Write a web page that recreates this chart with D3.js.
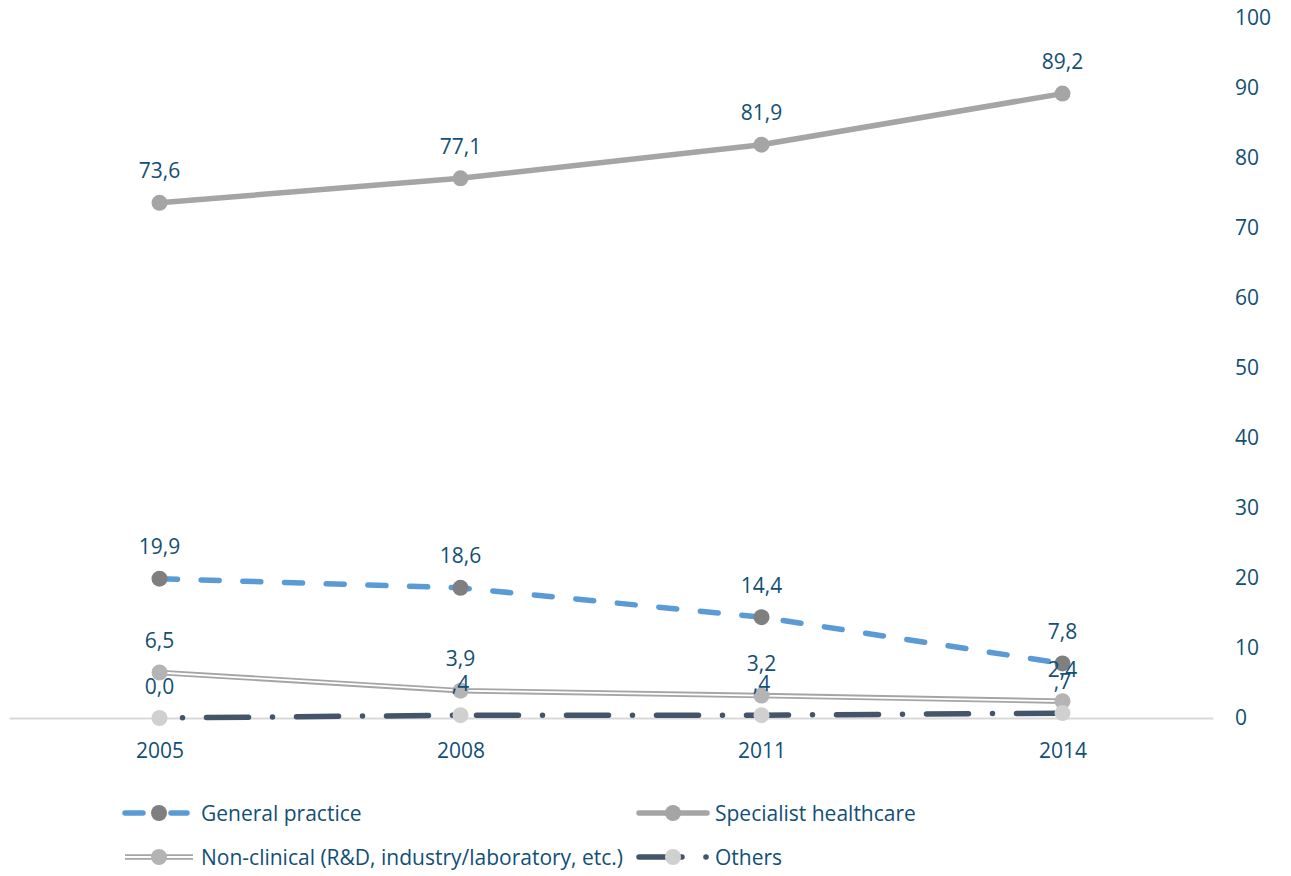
<!DOCTYPE html>
<html>
<head>
<meta charset="utf-8">
<script src="https://cdn.jsdelivr.net/npm/d3@7"></script>
<style>
  body { margin: 0; background: #fff; }
  svg text { font-family: "Open Sans", sans-serif; fill: #124F75; }
</style>
</head>
<body>
<div id="chart"></div>
<script>
// chart data
var years = ['2005', '2008', '2011', '2014'];
var generalPractice = [19.9, 18.6, 14.4, 7.8];
var specialist = [73.6, 77.1, 81.9, 89.2];
var nonClinical = [6.5, 3.9, 3.2, 2.4];
var others = [0.0, 0.4, 0.4, 0.7];
var othersLabels = ['0,0', ',4', ',4', ',7'];
var yTicks = [0, 10, 20, 30, 40, 50, 60, 70, 80, 90, 100];

var width = 1291, height = 876;
var fontSize = 21;
var textColor = '#124F75';

var svg = d3.select('#chart').append('svg')
    .attr('width', width)
    .attr('height', height);

var x = d3.scalePoint().domain(years).range([9, 1213]).padding(0.5);
var y = d3.scaleLinear().domain([0, 100]).range([718, 18]);

var fmt = function (v) { return d3.format('.1f')(v).replace('.', ','); };

// x axis
var xAxis = svg.append('g')
    .attr('transform', 'translate(0,' + y(0) + ')')
    .call(d3.axisBottom(x).tickSize(0).tickPadding(25));
xAxis.select('.domain').attr('stroke', '#D9D9D9').attr('stroke-width', 2);
xAxis.selectAll('text').style('font-size', fontSize + 'px').attr('fill', textColor);

// y axis on the right
var yAxis = svg.append('g')
    .attr('transform', 'translate(1213,0)')
    .call(d3.axisRight(y).tickValues(yTicks).tickSize(0).tickPadding(22));
yAxis.select('.domain').remove();
yAxis.selectAll('text').style('font-size', fontSize + 'px').attr('fill', textColor);

var line = d3.line()
    .x(function (d, i) { return x(years[i]); })
    .y(function (d) { return y(d); });

var series = [
    { name: 'General practice', values: generalPractice, color: '#5B9BD5', marker: '#7F7F7F', dash: '18,23.7', cap: 'round' },
    { name: 'Specialist healthcare', values: specialist, color: '#A5A5A5', marker: '#A5A5A5', dash: null, cap: 'round' },
    { name: 'Non-clinical (R&D, industry/laboratory, etc.)', values: nonClinical, color: '#A5A5A5', marker: '#B4B4B4', dash: null, cap: 'butt', double: true },
    { name: 'Others', values: others, color: '#44546A', marker: '#D0D0D0', dash: '0,24,42,24', offset: 67, cap: 'round', labels: othersLabels }
];

series.forEach(function (s) {
    svg.append('path')
        .datum(s.values)
        .attr('d', line)
        .attr('fill', 'none')
        .attr('stroke', s.color)
        .attr('stroke-width', 5.5)
        .attr('stroke-linecap', s.cap)
        .attr('stroke-linejoin', 'round')
        .attr('stroke-dasharray', s.dash)
        .attr('stroke-dashoffset', s.offset || 0);
    if (s.double) {
        svg.append('path')
            .datum(s.values)
            .attr('d', line)
            .attr('fill', 'none')
            .attr('stroke', '#fff')
            .attr('stroke-width', 1.8);
    }
    svg.selectAll(null)
        .data(s.values)
        .enter().append('circle')
        .attr('cx', function (d, i) { return x(years[i]); })
        .attr('cy', function (d) { return y(d); })
        .attr('r', 8)
        .attr('fill', s.marker);
});

// data labels
series.forEach(function (s) {
    svg.selectAll(null)
        .data(s.values)
        .enter().append('text')
        .attr('x', function (d, i) { return x(years[i]); })
        .attr('y', function (d) { return y(d) - 32; })
        .attr('dy', '0.36em')
        .attr('text-anchor', 'middle')
        .style('font-size', fontSize + 'px')
        .text(function (d, i) { return s.labels ? s.labels[i] : fmt(d); });
});

// legend
var legendPos = [
    { x: 123, y: 813 }, { x: 637, y: 813 },
    { x: 123, y: 857 }, { x: 637, y: 857 }
];

series.forEach(function (s, i) {
    var p = legendPos[i];
    var g = svg.append('g').attr('transform', 'translate(' + p.x + ',' + p.y + ')');
    if (i == 0) {
        g.append('line').attr('x1', 2).attr('x2', 20).attr('y1', 0).attr('y2', 0)
            .attr('stroke', s.color).attr('stroke-width', 5.5).attr('stroke-linecap', 'round');
        g.append('line').attr('x1', 48).attr('x2', 64).attr('y1', 0).attr('y2', 0)
            .attr('stroke', s.color).attr('stroke-width', 5.5).attr('stroke-linecap', 'round');
    } else if (i == 3) {
        g.append('line').attr('x1', 2).attr('x2', 45).attr('y1', 0).attr('y2', 0)
            .attr('stroke', s.color).attr('stroke-width', 5.5).attr('stroke-linecap', 'round');
        g.append('circle').attr('cx', 69).attr('cy', 0).attr('r', 2.8).attr('fill', s.color);
    } else {
        g.append('line').attr('x1', 2).attr('x2', 70).attr('y1', 0).attr('y2', 0)
            .attr('stroke', s.color).attr('stroke-width', 5.5).attr('stroke-linecap', s.double ? 'butt' : 'round');
        if (s.double) {
            g.append('line').attr('x1', 2).attr('x2', 70).attr('y1', 0).attr('y2', 0)
                .attr('stroke', '#fff').attr('stroke-width', 1.8);
        }
    }
    g.append('circle').attr('cx', 36).attr('cy', 0).attr('r', 8).attr('fill', s.marker);
    g.append('text')
        .attr('x', 78)
        .attr('y', 0)
        .attr('dy', '0.36em')
        .style('font-size', fontSize + 'px')
        .text(s.name);
});
</script>
</body>
</html>
